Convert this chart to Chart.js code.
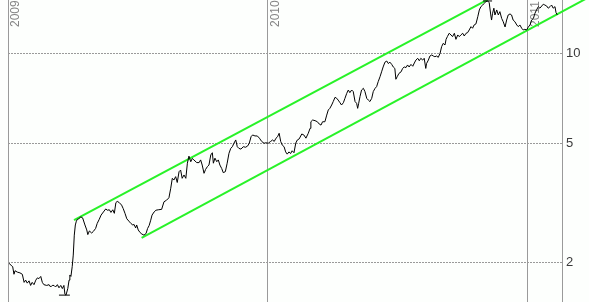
<!DOCTYPE html>
<html>
<head>
<meta charset="utf-8">
<script src="https://cdn.jsdelivr.net/npm/chart.js@4/dist/chart.umd.min.js"></script>
<style>
  html, body { margin: 0; padding: 0; background: #fdfffd; }
  canvas { display: block; }
</style>
</head>
<body>
<canvas id="chart" width="589" height="302"></canvas>
<script>
// axis ticks
const yearTicks = [2009, 2010, 2011];
const priceTicks = [2, 5, 10];

// closing prices, x in decimal years
const dates = [
  2009.004, 2009.012, 2009.018, 2009.023, 2009.027, 2009.036, 2009.046, 2009.055, 2009.062, 2009.068,
  2009.074, 2009.081, 2009.087, 2009.093, 2009.100, 2009.107, 2009.113, 2009.119, 2009.126, 2009.132,
  2009.138, 2009.149, 2009.158, 2009.164, 2009.170, 2009.177, 2009.183, 2009.190, 2009.196, 2009.203,
  2009.209, 2009.215, 2009.219, 2009.223, 2009.230, 2009.235, 2009.238, 2009.242, 2009.247, 2009.251,
  2009.255, 2009.259, 2009.263, 2009.267, 2009.272, 2009.280, 2009.287, 2009.296, 2009.303, 2009.307,
  2009.313, 2009.322, 2009.328, 2009.337, 2009.343, 2009.351, 2009.358, 2009.367, 2009.376, 2009.382,
  2009.390, 2009.396, 2009.403, 2009.409, 2009.415, 2009.420, 2009.428, 2009.437, 2009.443, 2009.450,
  2009.457, 2009.465, 2009.473, 2009.480, 2009.485, 2009.491, 2009.495, 2009.501, 2009.508, 2009.515,
  2009.523, 2009.531, 2009.537, 2009.543, 2009.549, 2009.554, 2009.562, 2009.569, 2009.578, 2009.591,
  2009.600, 2009.610, 2009.619, 2009.626, 2009.632, 2009.638, 2009.645, 2009.651, 2009.658, 2009.664,
  2009.670, 2009.677, 2009.684, 2009.690, 2009.696, 2009.703, 2009.709, 2009.715, 2009.726, 2009.735,
  2009.741, 2009.747, 2009.754, 2009.760, 2009.767, 2009.773, 2009.780, 2009.786, 2009.790, 2009.796,
  2009.803, 2009.809, 2009.815, 2009.822, 2009.828, 2009.836, 2009.843, 2009.850, 2009.857, 2009.863,
  2009.869, 2009.876, 2009.882, 2009.888, 2009.896, 2009.905, 2009.914, 2009.922, 2009.928, 2009.935,
  2009.941, 2009.950, 2009.959, 2009.967, 2009.976, 2009.985, 2009.992,
  2010.001, 2010.010, 2010.018, 2010.024, 2010.031, 2010.037, 2010.043, 2010.049, 2010.055, 2010.062,
  2010.068, 2010.074, 2010.081, 2010.087, 2010.093, 2010.100, 2010.107, 2010.113, 2010.120, 2010.130,
  2010.138, 2010.146, 2010.155, 2010.162, 2010.165, 2010.172, 2010.181, 2010.190, 2010.197, 2010.204,
  2010.210, 2010.219, 2010.226, 2010.232, 2010.238, 2010.245, 2010.251, 2010.258, 2010.264, 2010.270,
  2010.277, 2010.283, 2010.290, 2010.296, 2010.303, 2010.309, 2010.315, 2010.322, 2010.328, 2010.335,
  2010.341, 2010.345, 2010.349, 2010.354, 2010.360, 2010.367, 2010.373, 2010.380, 2010.386, 2010.392,
  2010.399, 2010.405, 2010.412, 2010.418, 2010.424, 2010.431, 2010.437, 2010.443, 2010.450, 2010.457,
  2010.463, 2010.469, 2010.476, 2010.482, 2010.488, 2010.492, 2010.497, 2010.504, 2010.512, 2010.518,
  2010.524, 2010.531, 2010.537, 2010.543, 2010.550, 2010.557, 2010.563, 2010.569, 2010.576, 2010.582,
  2010.588, 2010.595, 2010.601, 2010.607, 2010.610, 2010.617, 2010.623, 2010.630, 2010.636, 2010.642,
  2010.649, 2010.655, 2010.662, 2010.668, 2010.674, 2010.681, 2010.685, 2010.690, 2010.697, 2010.704,
  2010.710, 2010.717, 2010.723, 2010.730, 2010.736, 2010.742, 2010.749, 2010.755, 2010.762, 2010.768,
  2010.774, 2010.781, 2010.787, 2010.793, 2010.800, 2010.807, 2010.813, 2010.819, 2010.826, 2010.832,
  2010.838, 2010.845, 2010.851, 2010.857, 2010.860, 2010.864, 2010.869, 2010.873, 2010.880, 2010.886,
  2010.892, 2010.899, 2010.905, 2010.912, 2010.918, 2010.924, 2010.931, 2010.937, 2010.943, 2010.950,
  2010.957, 2010.963, 2010.969, 2010.976, 2010.982, 2010.988, 2010.995,
  2011.001, 2011.008, 2011.014, 2011.021, 2011.027, 2011.033, 2011.040, 2011.046, 2011.053, 2011.059,
  2011.065, 2011.072, 2011.078, 2011.085, 2011.091, 2011.097, 2011.104, 2011.108, 2011.113
];
const prices = [
  1.98, 1.95, 1.93, 1.82, 1.87, 1.85, 1.84, 1.82, 1.71, 1.74,
  1.70, 1.73, 1.67, 1.71, 1.68, 1.74, 1.77, 1.76, 1.79, 1.71,
  1.68, 1.67, 1.68, 1.65, 1.67, 1.67, 1.65, 1.68, 1.64, 1.67,
  1.63, 1.67, 1.56, 1.55, 1.63, 1.74, 1.81, 1.79, 1.93, 2.11,
  2.46, 2.66, 2.74, 2.78, 2.79, 2.83, 2.81, 2.66, 2.56, 2.47,
  2.54, 2.50, 2.53, 2.59, 2.69, 2.78, 2.87, 2.94, 3.01, 2.98,
  2.99, 2.93, 2.99, 2.91, 3.16, 3.19, 3.16, 3.10, 3.02, 2.91,
  2.79, 2.74, 2.69, 2.66, 2.67, 2.60, 2.66, 2.56, 2.51, 2.48,
  2.46, 2.49, 2.59, 2.65, 2.76, 2.87, 2.94, 2.98, 2.99, 3.00,
  3.18, 3.22, 3.28, 3.53, 3.81, 3.76, 3.86, 3.69, 4.01, 4.06,
  3.81, 3.91, 3.81, 4.28, 4.52, 4.33, 4.44, 4.39, 4.30, 4.30,
  4.39, 4.22, 3.96, 4.08, 4.17, 4.22, 4.56, 4.64, 4.28, 4.45,
  4.33, 4.39, 4.22, 4.11, 3.98, 4.01, 4.28, 4.62, 4.80, 4.86,
  4.99, 5.12, 4.86, 4.80, 4.77, 4.86, 4.84, 4.89, 4.99, 5.25,
  5.32, 5.28, 5.28, 5.19, 5.06, 4.99, 5.01,
  4.99, 5.06, 5.12, 5.06, 5.19, 5.25, 5.39, 5.06, 4.92, 4.86,
  4.67, 4.59, 4.67, 4.61, 4.71, 4.64, 5.00, 5.12, 5.16, 5.36,
  5.32, 5.19, 5.39, 5.60, 5.89, 5.97, 5.94, 5.89, 5.79, 5.74,
  5.89, 5.89, 6.20, 6.45, 6.53, 6.70, 6.88, 7.11, 7.06, 6.96,
  6.82, 6.70, 6.82, 7.05, 7.33, 7.52, 7.37, 7.52, 7.43, 6.88,
  6.79, 6.53, 6.79, 7.15, 7.52, 7.62, 7.43, 7.05, 6.96, 6.88,
  7.05, 7.43, 7.62, 7.72, 8.02, 8.33, 8.65, 8.98, 9.32, 9.40,
  9.22, 9.32, 9.16, 8.98, 8.88, 8.17, 8.33, 8.55, 8.65, 8.88,
  8.98, 8.94, 9.12, 8.98, 9.16, 9.03, 9.26, 9.47, 9.60, 9.42,
  9.60, 9.47, 9.60, 8.88, 9.22, 9.47, 9.77, 9.85, 9.77, 9.72,
  9.77, 9.67, 9.98, 10.50, 10.77, 10.64, 11.11, 11.34, 11.64, 11.49,
  11.34, 11.64, 11.11, 11.49, 11.34, 11.49, 11.64, 11.40, 11.64, 11.70,
  11.94, 12.25, 12.10, 12.41, 12.51, 13.22, 13.93, 14.29, 14.47, 14.66,
  14.85, 14.93, 14.73, 13.40, 12.89, 13.58, 14.12, 13.40, 13.93, 13.40,
  13.75, 13.05, 12.72, 12.22, 12.89, 13.40, 13.51, 13.40, 12.89, 12.72,
  12.41, 12.25, 12.41, 12.10, 11.94, 12.00, 11.94,
  12.20, 12.41, 12.89, 13.05, 13.58, 13.93, 14.29, 14.12, 14.36, 14.56,
  14.47, 14.36, 14.12, 14.29, 14.47, 14.12, 14.29, 13.65, 13.40
];

// trend channel
const upperChannelDates = [2009.254, 2010.892];
const upperChannelPrices = [2.76, 15.86];
const lowerChannelDates = [2009.514, 2011.238];
const lowerChannelPrices = [2.41, 15.43];

// low / high marks
const lowMarkDates = [2009.196, 2009.238];
const lowMarkPrices = [1.55, 1.55];
const highMarkDates = [2010.827, 2010.862];
const highMarkPrices = [14.93, 14.93];

const toPoints = (xs, ys) => xs.map((x, i) => ({ x: x, y: ys[i] }));

const gridColor = "#9a9a9a";
const channelColor = "rgb(40, 242, 40)";

// year labels drawn inside the plot, rotated, next to each year line
const yearLabels = {
  id: "yearLabels",
  beforeDatasetsDraw(chart) {
    const ctx = chart.ctx;
    const xScale = chart.scales.x;
    ctx.save();
    ctx.fillStyle = "#858585";
    ctx.font = "12px 'Liberation Sans'";
    ctx.textAlign = "left";
    ctx.textBaseline = "top";
    yearTicks.forEach(year => {
      const px = Math.round(xScale.getPixelForValue(year));
      ctx.save();
      ctx.translate(px + 2, 27);
      ctx.rotate(-Math.PI / 2);
      ctx.fillText(String(year), 0, 0);
      ctx.restore();
    });
    ctx.restore();
  }
};

new Chart(document.getElementById("chart"), {
  type: "line",
  data: {
    datasets: [
      {
        label: "Close",
        data: toPoints(dates, prices),
        borderColor: "#000000",
        borderWidth: 1,
        pointRadius: 0,
        tension: 0,
        order: 1
      },
      {
        label: "Upper channel",
        data: toPoints(upperChannelDates, upperChannelPrices),
        borderColor: channelColor,
        borderWidth: 2,
        pointRadius: 0,
        clip: false,
        order: 2
      },
      {
        label: "Lower channel",
        data: toPoints(lowerChannelDates, lowerChannelPrices),
        borderColor: channelColor,
        borderWidth: 2,
        pointRadius: 0,
        clip: false,
        order: 2
      },
      {
        label: "Low",
        data: toPoints(lowMarkDates, lowMarkPrices),
        borderColor: "#000000",
        borderWidth: 1,
        pointRadius: 0
      },
      {
        label: "High",
        data: toPoints(highMarkDates, highMarkPrices),
        borderColor: "#000000",
        borderWidth: 1,
        pointRadius: 0
      }
    ]
  },
  options: {
    responsive: false,
    animation: false,
    layout: {
      padding: { left: 8, right: 0, top: 0, bottom: 0 }
    },
    plugins: {
      legend: { display: false },
      tooltip: { enabled: false }
    },
    scales: {
      x: {
        type: "linear",
        min: 2009,
        max: 2011.131,
        afterBuildTicks: scale => {
          scale.ticks = yearTicks.map(v => ({ value: v }));
        },
        ticks: { display: false },
        grid: {
          drawTicks: false,
          color: c => (c.tick && c.tick.value === 2009 ? "rgba(0,0,0,0)" : gridColor)
        },
        border: { display: false }
      },
      y: {
        type: "logarithmic",
        position: "right",
        min: 1.47,
        max: 15.04,
        afterBuildTicks: scale => {
          scale.ticks = priceTicks.map(v => ({ value: v }));
        },
        afterFit: scale => {
          scale.width = 27;
          scale.paddingTop = 0;
          scale.paddingBottom = 0;
        },
        ticks: {
          color: "#3a3a3a",
          padding: 4,
          font: { family: "'Liberation Sans'", size: 13 },
          callback: v => String(v)
        },
        grid: {
          drawTicks: false,
          color: gridColor
        },
        border: {
          display: true,
          color: gridColor,
          dash: [2, 1]
        }
      },
      // left edge line only
      edge: {
        type: "linear",
        position: "left",
        ticks: { display: false },
        grid: { display: false, drawTicks: false },
        border: {
          display: true,
          color: gridColor,
          dash: [2, 1]
        }
      }
    }
  },
  plugins: [yearLabels]
});
</script>
</body>
</html>
